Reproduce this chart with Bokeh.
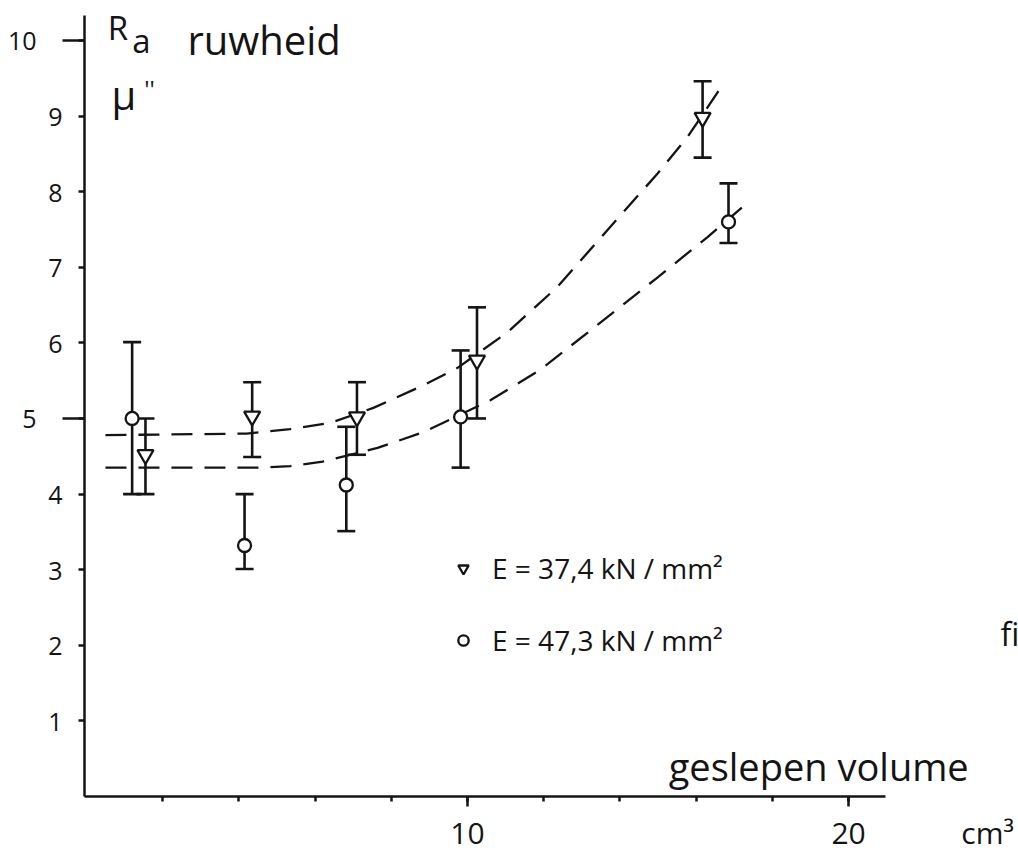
from bokeh.plotting import figure
from bokeh.models import (Range1d, FixedTicker, LinearAxis, ColumnDataSource, Whisker,
                          TeeHead, Label, Legend, LegendItem)
from bokeh.embed import file_html
from bokeh.resources import INLINE

# ---- data ----
tri_x = [1.55, 4.35, 7.1, 10.25, 16.17]
tri_y = [4.52, 5.03, 5.02, 5.77, 8.98]
tri_lo = [4.0, 4.49, 4.52, 5.0, 8.45]
tri_hi = [5.0, 5.48, 5.48, 6.47, 9.46]

circ_x = [1.2, 4.15, 6.82, 9.82, 16.85]
circ_y = [5.0, 3.32, 4.12, 5.02, 7.6]
circ_lo = [4.0, 3.01, 3.51, 4.35, 7.32]
circ_hi = [6.01, 4.0, 4.89, 5.9, 8.11]

upper_x = [0.5, 4.2, 5.35, 6.4, 7.53, 8.85, 9.74, 11.05, 12.36, 13.67, 14.99, 15.77, 16.6]
upper_y = [4.78, 4.8, 4.86, 4.94, 5.14, 5.44, 5.67, 6.14, 6.74, 7.49, 8.24, 8.72, 9.34]
lower_x = [0.5, 4.5, 5.35, 6.2, 7.64, 8.85, 10.6, 11.9, 13.67, 15.0, 16.3, 17.2]
lower_y = [4.35, 4.35, 4.37, 4.43, 4.61, 4.82, 5.24, 5.64, 6.34, 6.87, 7.4, 7.79]

x_ticks = [10, 20]
x_minor = [2, 4, 6, 8, 10, 12, 14, 16, 18, 20]
x_unit_pos = 23.65
x_unit = "cm³"
y_ticks = [1, 2, 3, 4, 5, 6, 7, 8, 9, 10]
y_long = [5, 10]

label_tri = "E = 37,4 kN / mm²"
label_circ = "E = 47,3 kN / mm²"

FONT = "Open Sans"
INK = "#141414"
NB = "\u00a0"

p = figure(width=1018, height=855, output_backend="svg", toolbar_location=None,
           x_range=Range1d(-0.05, 24.46), y_range=Range1d(0, 10.33),
           min_border_left=84, min_border_top=15, min_border_right=0, min_border_bottom=58)
p.outline_line_color = None
p.grid.visible = False
p.background_fill_color = "white"
p.border_fill_color = "white"

# x axis: line + ticks only, line stops at x = 20.97
xa = p.xaxis[0]
xa.bounds = (-0.05, 20.97)
xa.ticker = FixedTicker(ticks=x_ticks, minor_ticks=x_minor)
xa.axis_line_width = 2.5
xa.axis_line_color = INK
xa.major_tick_line_width = 2.5
xa.major_tick_line_color = INK
xa.major_tick_in = 0
xa.major_tick_out = 10
xa.minor_tick_line_width = 2.5
xa.minor_tick_line_color = INK
xa.minor_tick_in = 0
xa.minor_tick_out = 5
xa.major_label_overrides = {10: "", 20: ""}
xa.major_label_text_font_size = "0px"
xa.major_label_standoff = 0

# x labels (and the unit) on a second, line-less axis
xa2 = LinearAxis(ticker=FixedTicker(ticks=x_ticks + [x_unit_pos]))
xa2.major_label_overrides = {x_unit_pos: x_unit}
xa2.axis_line_color = None
xa2.major_tick_line_color = None
xa2.minor_tick_line_color = None
xa2.major_tick_in = 0
xa2.major_tick_out = 0
xa2.major_label_standoff = 5
xa2.major_label_text_font = FONT
xa2.major_label_text_font_size = "30px"
xa2.major_label_text_color = INK
p.add_layout(xa2, "below")

# y axis: line + ticks (long at 5 and 10)
ya = p.yaxis[0]
ya.ticker = FixedTicker(ticks=y_long, minor_ticks=y_ticks)
ya.axis_line_width = 2.5
ya.axis_line_color = INK
ya.major_tick_line_width = 2.5
ya.major_tick_line_color = INK
ya.major_tick_in = 0
ya.major_tick_out = 22
ya.minor_tick_line_width = 2.5
ya.minor_tick_line_color = INK
ya.minor_tick_in = 0
ya.minor_tick_out = 6
ya.major_label_overrides = {5: "", 10: ""}
ya.major_label_text_font_size = "0px"
ya.major_label_standoff = 0

# y labels (5 and 10 sit further out, beyond their long ticks)
ya2 = LinearAxis(ticker=FixedTicker(ticks=y_ticks))
ya2.major_label_overrides = {5: "5" + NB * 4, 10: "10" + NB * 4}
ya2.axis_line_color = None
ya2.major_tick_line_color = None
ya2.minor_tick_line_color = None
ya2.major_tick_in = 0
ya2.major_tick_out = 0
ya2.major_label_standoff = 0
ya2.major_label_text_font = FONT
ya2.major_label_text_font_size = "25px"
ya2.major_label_text_color = INK
p.add_layout(ya2, "left")

# fitted dashed curves
p.line(upper_x, upper_y, line_color=INK, line_width=2.3, line_dash="21 12")
p.line(lower_x, lower_y, line_color=INK, line_width=2.3, line_dash="21 12")

# error bars
tri_src = ColumnDataSource(dict(x=tri_x, y=tri_y, lo=tri_lo, hi=tri_hi))
circ_src = ColumnDataSource(dict(x=circ_x, y=circ_y, lo=circ_lo, hi=circ_hi))
for src in (tri_src, circ_src):
    w = Whisker(source=src, base="x", upper="hi", lower="lo",
                line_color=INK, line_width=2.6,
                upper_head=TeeHead(size=18, line_color=INK, line_width=2.6),
                lower_head=TeeHead(size=18, line_color=INK, line_width=2.6))
    p.add_layout(w)

r_tri = p.scatter("x", "y", source=tri_src, marker="inverted_triangle", size=16,
                  fill_color="white", line_color=INK, line_width=2.3)
r_circ = p.scatter("x", "y", source=circ_src, marker="circle", size=13,
                   fill_color="white", line_color=INK, line_width=2.3)

legend = Legend(items=[LegendItem(label=label_tri, renderers=[r_tri]),
                       LegendItem(label=label_circ, renderers=[r_circ])],
                location=(366, 137), orientation="vertical",
                glyph_width=26, glyph_height=38, label_height=38, spacing=34,
                label_standoff=16, padding=0, margin=0,
                border_line_color=None, background_fill_alpha=0,
                label_text_font=FONT, label_text_font_size="28px",
                label_text_color=INK)
p.add_layout(legend)

def lab(x, y, text, size):
    p.add_layout(Label(x=x, y=y, text=text, text_font=FONT, text_font_size=size,
                       text_color=INK, text_baseline="alphabetic", text_align="left"))

lab(0.56, 10.17, "R", "33px")
lab(1.2, 10.0, "a", "33px")
lab(2.65, 10.01, "ruwheid", "40px")
lab(0.66, 9.29, "μ", "40px")
lab(1.52, 9.37, "''", "24px")
lab(15.28, 0.40, "geslepen volume", "38px")
lab(23.99, 2.15, "fi", "32px")

open("out.html", "w").write(file_html(p, INLINE))
